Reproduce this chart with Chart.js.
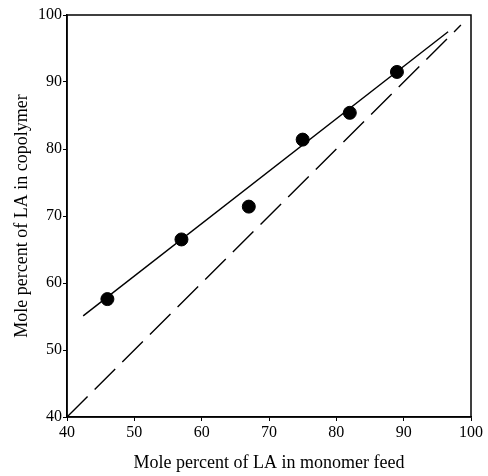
<!DOCTYPE html>
<html>
<head>
<meta charset="utf-8">
<script src="https://cdn.jsdelivr.net/npm/chart.js@4/dist/chart.umd.min.js"></script>
<style>
  html, body { margin: 0; padding: 0; background: #fff; }
  canvas { display: block; }
</style>
</head>
<body>
<canvas id="c" width="488" height="476"></canvas>
<script>
// Data
const feedLA = [46, 57, 67, 75, 82, 89];          // mole % LA in monomer feed
const copolymerLA = [57.6, 66.5, 71.4, 81.4, 85.4, 91.5]; // mole % LA in copolymer
const fitX = [42.4, 96.6];   // fitted solid line ends
const fitY = [55.1, 97.5];
const diagX = [40, 98.5];    // dashed y = x line
const diagY = [40, 98.5];
const xTicks = [40, 50, 60, 70, 80, 90, 100];
const yTicks = [40, 50, 60, 70, 80, 90, 100];
const xTitle = 'Mole percent of LA in monomer feed';
const yTitle = 'Mole percent of LA in copolymer';

const toPts = (xs, ys) => xs.map((x, i) => ({ x: x, y: ys[i] }));
const FONT = 'Liberation Serif';

const boxPlugin = {
  id: 'box',
  afterDraw(chart) {
    const a = chart.chartArea, ctx = chart.ctx;
    ctx.save();
    ctx.strokeStyle = '#000';
    ctx.lineWidth = 1.5;
    ctx.strokeRect(a.left, a.top, a.right - a.left, a.bottom - a.top);
    ctx.restore();
  }
};

new Chart(document.getElementById('c'), {
  type: 'scatter',
  data: {
    datasets: [
      {
        label: 'data',
        data: toPts(feedLA, copolymerLA),
        backgroundColor: '#000',
        borderColor: '#000',
        pointRadius: 6.5,
        pointHoverRadius: 6.5,
        showLine: false,
        order: 0
      },
      {
        label: 'fit',
        data: toPts(fitX, fitY),
        showLine: true,
        borderColor: '#000',
        borderWidth: 1.4,
        pointRadius: 0,
        fill: false,
        order: 1
      },
      {
        label: 'diag',
        data: toPts(diagX, diagY),
        showLine: true,
        borderColor: '#000',
        borderWidth: 1.4,
        borderDash: [29, 10],
        pointRadius: 0,
        fill: false,
        order: 2
      }
    ]
  },
  options: {
    responsive: false,
    animation: false,
    events: [],
    layout: { padding: { top: 15, right: 17, left: 0, bottom: 0 } },
    plugins: { legend: { display: false }, tooltip: { enabled: false } },
    scales: {
      x: {
        type: 'linear',
        min: 40, max: 100,
        afterBuildTicks: s => { s.ticks = xTicks.map(v => ({ value: v })); },
        afterFit: s => { s.height = 59; },
        border: { display: true, color: '#000', width: 1.5 },
        grid: { display: true, drawOnChartArea: false, drawTicks: true, tickLength: 4, color: '#000', lineWidth: 1 },
        ticks: { color: '#000', padding: 2, font: { family: FONT, size: 16 }, maxRotation: 0 },
        title: { display: true, text: xTitle, color: '#000', font: { family: FONT, size: 18 }, padding: { top: 0, bottom: 2 } }
      },
      y: {
        type: 'linear',
        min: 40, max: 100,
        afterBuildTicks: s => { s.ticks = yTicks.map(v => ({ value: v })); },
        afterFit: s => { s.width = 67; },
        border: { display: true, color: '#000', width: 1.5 },
        grid: { display: true, drawOnChartArea: false, drawTicks: true, tickLength: 4, color: '#000', lineWidth: 1 },
        ticks: { color: '#000', padding: 1, font: { family: FONT, size: 16 } },
        title: { display: true, text: yTitle, color: '#000', font: { family: FONT, size: 18 }, padding: { top: 11, bottom: 0 } }
      }
    }
  },
  plugins: [boxPlugin]
});
</script>
</body>
</html>
